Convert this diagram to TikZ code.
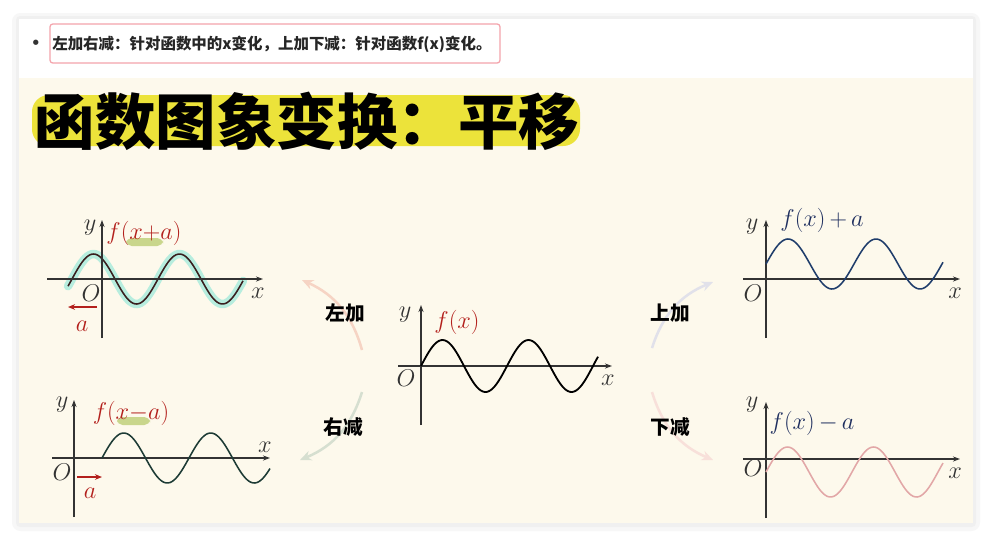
\documentclass[tikz,border=0pt]{standalone}
\usepackage{fontspec}
\newfontfamily\cjk{Noto Sans CJK SC}
\usetikzlibrary{arrows.meta}
\definecolor{cardcream}{HTML}{FDF9EC}
\definecolor{titleyellow}{HTML}{ECE33A}
\definecolor{boxpink}{HTML}{F4A3AB}
\definecolor{inkred}{HTML}{B3201C}
\definecolor{inkblue}{HTML}{1F2F5F}
\definecolor{axisgray}{HTML}{333333}
\definecolor{halocyan}{HTML}{A6EBDB}
\definecolor{markgreen}{HTML}{C9D68C}
\definecolor{curvebrown}{HTML}{3A1F1F}
\definecolor{curvegreen}{HTML}{1D3B35}
\definecolor{curveblue}{HTML}{1F3D6B}
\definecolor{curvepink}{HTML}{E2A7A7}
\definecolor{arrsalmon}{HTML}{F6D4C4}
\definecolor{arrsage}{HTML}{D6DFD0}
\definecolor{arrlilac}{HTML}{E1E1EA}
\definecolor{arrrose}{HTML}{F8E0DA}

\begin{document}
\begin{tikzpicture}[
  x=0.025cm, y=-0.025cm,
  axis/.style={-{Stealth[length=5pt, width=3.6pt]}, line width=0.8pt, draw=axisgray},
  curve/.style={line width=1.1pt, smooth, samples=90},
  halo/.style={line width=6pt, draw=halocyan, opacity=0.8, line cap=round, smooth, samples=90},
  axlbl/.style={font=\fontsize{16}{16}\selectfont, text=axisgray, inner sep=0pt},
  fnlbl/.style={font=\fontsize{17}{17}\selectfont, inner sep=0pt},
  verb/.style={font=\cjk\bfseries\fontsize{14}{14}\selectfont, inner sep=0pt},
  shiftarrow/.style={-{Stealth[length=8pt, width=7pt]}, line width=1.8pt},
  movearrow/.style={-{Stealth[length=5pt, width=4pt]}, line width=1pt, draw=inkred}
]

\useasboundingbox (0,0) rectangle (992,542);
\fill[white] (0,0) rectangle (992,542);

% card with shadow
\fill[black!3, rounded corners=6pt] (12,13) rectangle (980,531);
\fill[black!6, rounded corners=3pt] (16,16) rectangle (976,527);
\fill[white] (19,19) rectangle (973,523);
\fill[cardcream] (19,78) rectangle (973,523);

% bullet line
\node[font=\fontsize{14}{14}\selectfont, text=axisgray, inner sep=0pt] (dot) at (36,44) {\textbullet};
\draw[boxpink, line width=0.9pt, rounded corners=2pt] (50,24) rectangle (500,63);
\node[anchor=west, font=\cjk\bfseries\fontsize{11}{11}\selectfont, text=black!85, inner sep=0pt] (rule) at (52,44)
  {左加右减：针对函数中的x变化，上加下减：针对函数f(x)变化。};

% title
\fill[titleyellow, rounded corners=12pt] (32,95) rectangle (580,146);
\node[font=\cjk\bfseries\fontsize{43}{43}\selectfont, inner sep=0pt] (title) at (307,121) {函数图象变换：平移};

% f(x+a)
\begin{scope}[shift={(102,279)}]
  \draw[halo] plot[domain=-34:141] (\x, {-25*sin(360/86*(\x+30))});
  \draw[curve, curvebrown] plot[domain=-34:141] (\x, {-25*sin(360/86*(\x+30))});
  \draw[axis] (-55,0) -- (161,0);
  \draw[axis] (0,59) -- (0,-59);
  \node[axlbl] (y1) at (-12,-51) {$y$};
  \node[axlbl] (o1) at (-11,14) {$O$};
  \node[axlbl] (x1) at (156,14) {$x$};
  \fill[markgreen, rounded corners=4pt] (24,-41) rectangle (61,-33);
  \node[fnlbl, text=inkred] (fleft) at (42,-46) {$f(x{+}a)$};
  \coordinate (m1s) at (-5,28);
  \coordinate (m1e) at (-34,28);
  \draw[movearrow] (m1s) -- (m1e);
  \node[fnlbl, text=inkred] (a1) at (-20,47) {$a$};
\end{scope}

% f(x-a)
\begin{scope}[shift={(74,458)}]
  \draw[axis] (-22,0) -- (196,0);
  \draw[axis] (0,59) -- (0,-58);
  \draw[curve, curvegreen] plot[domain=28:196] (\x, {-25*sin(360/87*(\x-28))});
  \node[axlbl] (y2) at (-12,-53) {$y$};
  \node[axlbl] (o2) at (-12,14) {$O$};
  \node[axlbl] (x2) at (191,-11) {$x$};
  \fill[markgreen, rounded corners=4pt] (43,-41) rectangle (76,-33);
  \node[fnlbl, text=inkred] (fright) at (57,-45) {$f(x{-}a)$};
  \coordinate (m2s) at (3,19);
  \coordinate (m2e) at (28,19);
  \draw[movearrow] (m2s) -- (m2e);
  \node[fnlbl, text=inkred] (a2) at (16,35) {$a$};
\end{scope}

% f(x)
\begin{scope}[shift={(421,366)}]
  \draw[axis] (-23,0) -- (191,0);
  \draw[axis] (0,59) -- (0,-61);
  \draw[curve, black, line width=1.3pt] plot[domain=0:177] (\x, {-26*sin(360/86*\x)});
  \node[axlbl] (y3) at (-16,-51) {$y$};
  \node[axlbl] (o3) at (-15,12) {$O$};
  \node[axlbl] (x3) at (187,14) {$x$};
  \node[fnlbl, text=inkred] (fbase) at (36,-44) {$f(x)$};
\end{scope}

% f(x)+a
\begin{scope}[shift={(766,279)}]
  \draw[axis] (-23,0) -- (194,0);
  \draw[axis] (0,59) -- (0,-59);
  \draw[curve, curveblue] plot[domain=0:177] (\x, {-15-25*sin(360/88*\x)});
  \node[axlbl] (y4) at (-14,-52) {$y$};
  \node[axlbl] (o4) at (-13,14) {$O$};
  \node[axlbl] (x4) at (189,14) {$x$};
  \node[fnlbl, text=inkblue] (fup) at (56,-59) {$f(x)\,{+}\,a$};
\end{scope}

% f(x)-a
\begin{scope}[shift={(766,459)}]
  \draw[axis] (-23,0) -- (194,0);
  \draw[axis] (0,59) -- (0,-57);
  \draw[curve, curvepink] plot[domain=0:177] (\x, {13-25*sin(360/86*\x)});
  \node[axlbl] (y5) at (-14,-54) {$y$};
  \node[axlbl] (o5) at (-13,9) {$O$};
  \node[axlbl] (x5) at (189,14) {$x$};
  \node[fnlbl, text=inkblue] (fdown) at (46,-36) {$f(x)\,{-}\,a$};
\end{scope}

% shift arrows
\coordinate (zsrc) at (362,350);
\coordinate (ztip) at (302,280);
\coordinate (ysrc) at (362,392);
\coordinate (ytip) at (300,460);
\coordinate (ssrc) at (652,348);
\coordinate (stip) at (713,282);
\coordinate (xsrc) at (652,392);
\coordinate (xtip) at (713,460);
\draw[shiftarrow, draw=arrsalmon] (zsrc) to[bend right=25] (ztip);
\draw[shiftarrow, draw=arrsage] (ysrc) to[bend left=25] (ytip);
\draw[shiftarrow, draw=arrlilac] (ssrc) to[bend left=25] (stip);
\draw[shiftarrow, draw=arrrose] (xsrc) to[bend right=25] (xtip);
\node[verb] (zuojia) at (345,313) {左加};
\node[verb] (youjian) at (343,427) {右减};
\node[verb] (shangjia) at (670,313) {上加};
\node[verb] (xiajian) at (670,427) {下减};

\end{tikzpicture}
\end{document}
